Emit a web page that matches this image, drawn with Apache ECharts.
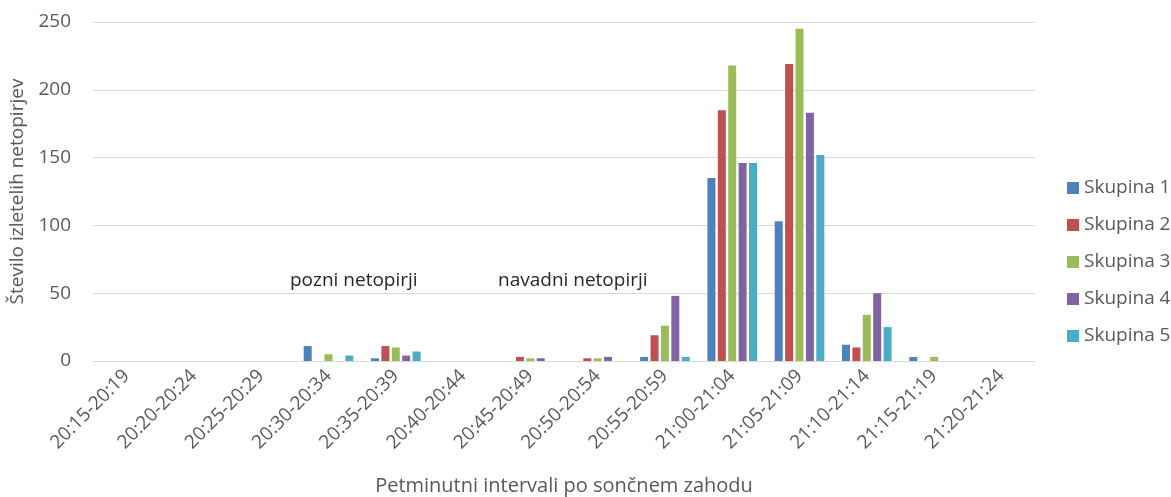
<!DOCTYPE html>
<html><head><meta charset="utf-8">
<script src="https://cdn.jsdelivr.net/npm/echarts@6/dist/echarts.min.js"></script>
<style>html,body{margin:0;padding:0;background:#fff}#c{width:1171px;height:497px}</style>
</head><body><div id="c"></div>
<script>
const categories = ["20:15-20:19","20:20-20:24","20:25-20:29","20:30-20:34","20:35-20:39","20:40-20:44","20:45-20:49","20:50-20:54","20:55-20:59","21:00-21:04","21:05-21:09","21:10-21:14","21:15-21:19","21:20-21:24"];
const seriesNames = ["Skupina 1","Skupina 2","Skupina 3","Skupina 4","Skupina 5"];
const skupina1 = [0,0,0,11,2,0,0,0,3,135,103,12,3,0];
const skupina2 = [0,0,0,0,11,0,3,2,19,185,219,10,0,0];
const skupina3 = [0,0,0,5,10,0,2,2,26,218,245,34,3,0];
const skupina4 = [0,0,0,0,4,0,2,3,48,146,183,50,0,0];
const skupina5 = [0,0,0,4,7,0,0,0,3,146,152,25,0,0];
const yTicks = [0,50,100,150,200,250];
const annotations = ["pozni netopirji","navadni netopirji"];

const colors = ["#4F81BD","#C0504D","#9BBB59","#8064A2","#4BACC6"];
const allData = [skupina1,skupina2,skupina3,skupina4,skupina5];
const font = "'Open Sans', 'Noto Sans', sans-serif";
const chart = echarts.init(document.getElementById('c'));
chart.setOption({
  animation:false,
  textStyle:{fontFamily:font},
  grid:{left:93,right:136,top:22,bottom:136,containLabel:false,outerBoundsMode:'none'},
  legend:{
    orient:'vertical', left:1062, top:172, itemWidth:12, itemHeight:12, itemGap:15,
    icon:'rect',
    textStyle:{fontSize:19,color:'#595959',fontFamily:font,lineHeight:22},
    data:seriesNames
  },
  xAxis:{
    type:'category', data:categories,
    name:'Petminutni intervali po sončnem zahodu', nameLocation:'middle', nameGap:115,
    nameTextStyle:{fontSize:20,color:'#595959'},
    axisLine:{lineStyle:{color:'#d9d9d9'}}, axisTick:{show:false},
    axisLabel:{rotate:45,fontSize:19,color:'#595959',margin:12,interval:0}
  },
  yAxis:{
    type:'value', min:yTicks[0], max:yTicks[yTicks.length-1], interval:50,
    name:'Število izletelih netopirjev', nameLocation:'middle', nameGap:63,
    nameTextStyle:{fontSize:19,color:'#595959'},
    axisLine:{show:false}, axisTick:{show:false},
    axisLabel:{fontSize:19,color:'#595959',margin:22},
    splitLine:{lineStyle:{color:'#d9d9d9',width:1}}
  },
  series: seriesNames.map((n,i)=>({
    name:n, type:'bar', data:allData[i], barWidth:8, barGap:'30%',
    itemStyle:{color:colors[i]}
  })),
  graphic:[
    {type:'text', x:290, y:281, style:{text:annotations[0],fontSize:19,fill:'#262626',fontFamily:font,verticalAlign:'middle'}},
    {type:'text', x:498, y:281, style:{text:annotations[1],fontSize:19,fill:'#262626',fontFamily:font,verticalAlign:'middle'}}
  ]
});
</script></body></html>
